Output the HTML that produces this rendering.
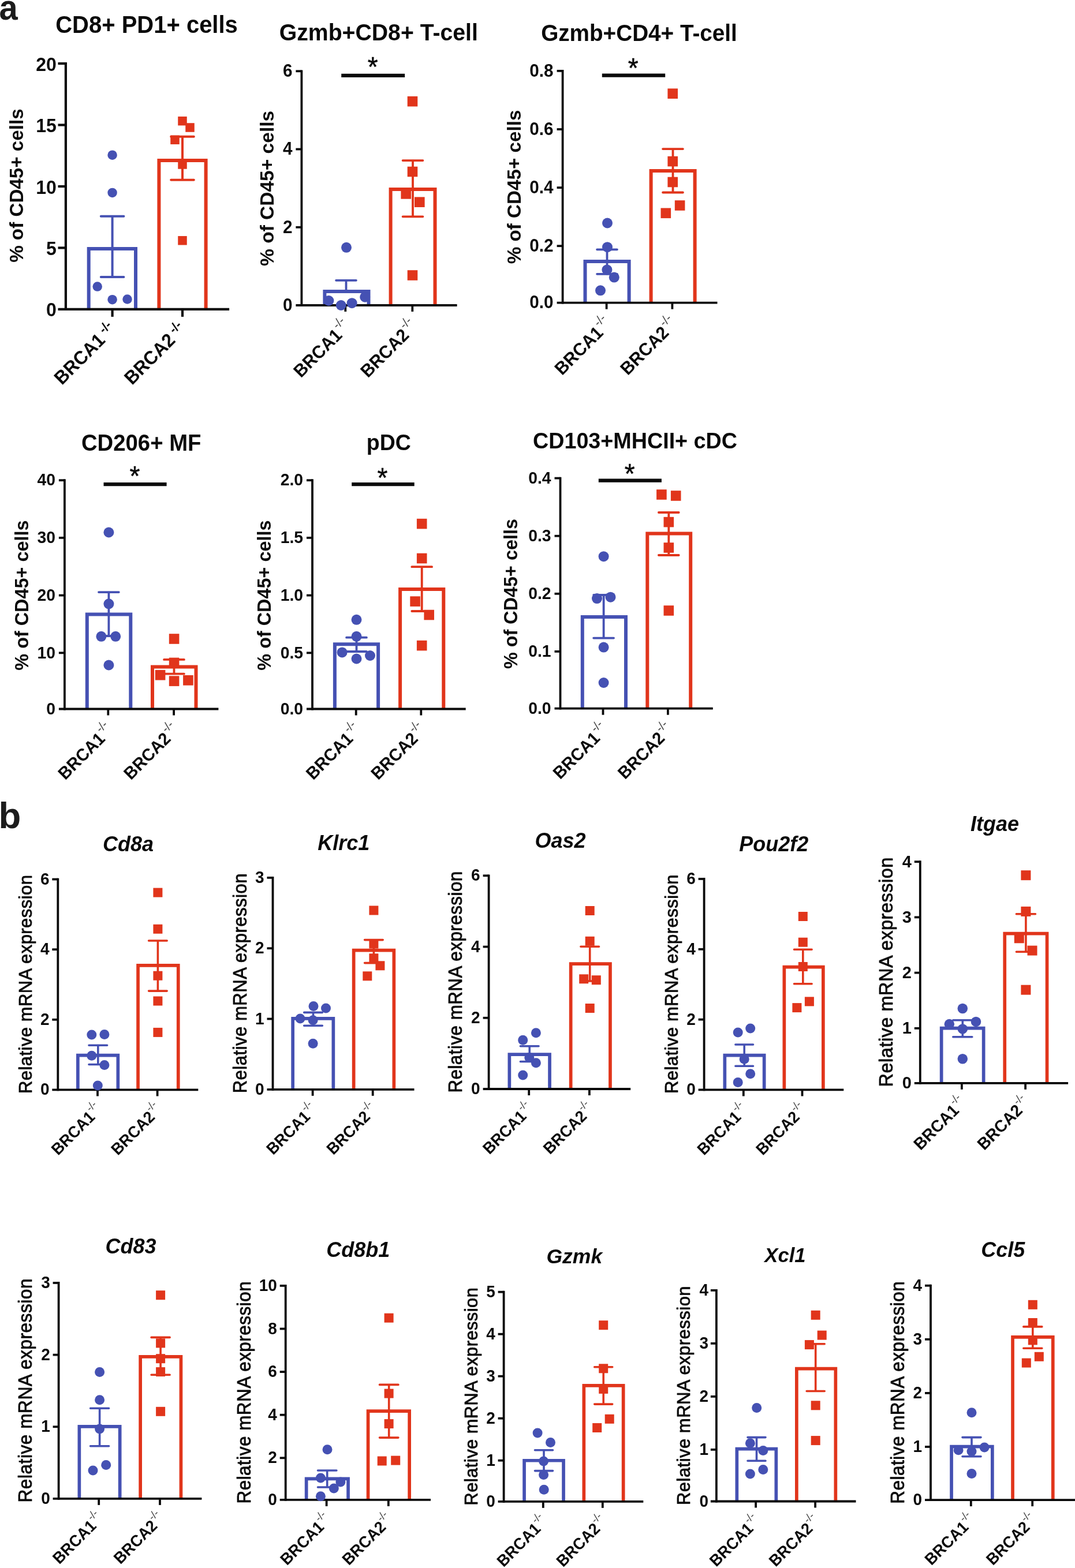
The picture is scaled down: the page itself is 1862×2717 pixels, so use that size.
<!DOCTYPE html>
<html lang="en">
<head>
<meta charset="utf-8">
<title>Figure</title>
<style>
html,body{margin:0;padding:0;background:#fff;}
body{width:1862px;height:2717px;overflow:hidden;}
svg{display:block;font-family:'Liberation Sans', Arial, sans-serif;}
svg text{font-kerning:normal;}
</style>
</head>
<body>
<svg width="1862" height="2717" viewBox="0 0 1862 2717">
<rect width="1862" height="2717" fill="#fff"/>
<text transform="translate(-1.5 34.3) scale(0.95 1)" font-size="61" font-weight="bold" fill="#1c1c1c">a</text>
<text transform="translate(-2.4 1434.8)" font-size="63.5" font-weight="bold" fill="#1c1c1c">b</text>
<g>
<path d="M153.7 535.9 V431 H235 V535.9" fill="none" stroke="#4551B3" stroke-width="6" stroke-linejoin="miter"/>
<path d="M275.4 535.9 V278 H356.6 V535.9" fill="none" stroke="#E1351B" stroke-width="6" stroke-linejoin="miter"/>
<path d="M113.9 108V538" stroke="#0a0a0a" stroke-width="4.2" fill="none"/>
<path d="M100.5 535.9H397.1" stroke="#0a0a0a" stroke-width="4.2" fill="none"/>
<path d="M100.5 110.1H113.9" stroke="#0a0a0a" stroke-width="4.2" fill="none"/>
<text transform="translate(97.8 122.62) scale(1 1.04)" font-size="32" font-weight="bold" text-anchor="end" fill="#0a0a0a">20</text>
<path d="M100.5 216.55H113.9" stroke="#0a0a0a" stroke-width="4.2" fill="none"/>
<text transform="translate(97.8 229.07) scale(1 1.04)" font-size="32" font-weight="bold" text-anchor="end" fill="#0a0a0a">15</text>
<path d="M100.5 323H113.9" stroke="#0a0a0a" stroke-width="4.2" fill="none"/>
<text transform="translate(97.8 335.52) scale(1 1.04)" font-size="32" font-weight="bold" text-anchor="end" fill="#0a0a0a">10</text>
<path d="M100.5 429.45H113.9" stroke="#0a0a0a" stroke-width="4.2" fill="none"/>
<text transform="translate(97.8 441.97) scale(1 1.04)" font-size="32" font-weight="bold" text-anchor="end" fill="#0a0a0a">5</text>
<text transform="translate(97.8 548.42) scale(1 1.04)" font-size="32" font-weight="bold" text-anchor="end" fill="#0a0a0a">0</text>
<path d="M194.6 535.9V548.9" stroke="#0a0a0a" stroke-width="4.2" fill="none"/>
<path d="M316 535.9V548.9" stroke="#0a0a0a" stroke-width="4.2" fill="none"/>
<path d="M194.6 374.8V480M174.8 374.8H214.4M174.8 480H214.4" fill="none" stroke="#4551B3" stroke-width="4" stroke-linecap="round"/>
<path d="M316 236.8V311.8M296.2 236.8H335.8M296.2 311.8H335.8" fill="none" stroke="#E1351B" stroke-width="4" stroke-linecap="round"/>
<circle cx="194.6" cy="268.7" r="8.25" fill="#4551B3"/>
<circle cx="194.6" cy="333.9" r="8.25" fill="#4551B3"/>
<circle cx="168.7" cy="496.6" r="8.25" fill="#4551B3"/>
<circle cx="194.6" cy="519.2" r="8.25" fill="#4551B3"/>
<circle cx="220.5" cy="518.5" r="8.25" fill="#4551B3"/>
<rect x="308.25" y="201.95" width="15.5" height="15.5" fill="#E1351B"/>
<rect x="321.25" y="213.25" width="15.5" height="15.5" fill="#E1351B"/>
<rect x="295.25" y="234.55" width="15.5" height="15.5" fill="#E1351B"/>
<rect x="308.25" y="277.25" width="15.5" height="15.5" fill="#E1351B"/>
<rect x="308.25" y="409.05" width="15.5" height="15.5" fill="#E1351B"/>
<text transform="translate(202.5 572.9) rotate(-45) scale(1 1.04)" font-size="31.5" font-weight="bold" text-anchor="end" fill="#0a0a0a">BRCA1<tspan font-size="21.42" dx="6" dy="-11.02" font-weight="bold" fill="#0a0a0a">-/-</tspan></text>
<text transform="translate(323.9 572.9) rotate(-45) scale(1 1.04)" font-size="31.5" font-weight="bold" text-anchor="end" fill="#0a0a0a">BRCA2<tspan font-size="21.42" dx="6" dy="-11.02" font-weight="bold" fill="#0a0a0a">-/-</tspan></text>
<text transform="translate(254 56.5) scale(1 1.04)" font-size="40" font-weight="bold" text-anchor="middle" fill="#0a0a0a">CD8+ PD1+ cells</text>
<text transform="translate(40.2 321.6) rotate(-90)" font-size="33.2" font-weight="bold" text-anchor="middle" fill="#0a0a0a">% of CD45+ cells</text>
</g>
<g>
<path d="M562.4 529 V505.1 H638.5 V529" fill="none" stroke="#4551B3" stroke-width="6" stroke-linejoin="miter"/>
<path d="M676.6 529 V328.1 H753.5 V529" fill="none" stroke="#E1351B" stroke-width="6" stroke-linejoin="miter"/>
<path d="M522.4 121.4V530.9" stroke="#0a0a0a" stroke-width="3.8" fill="none"/>
<path d="M512.4 529H791.6" stroke="#0a0a0a" stroke-width="3.8" fill="none"/>
<path d="M512.4 123.3H522.4" stroke="#0a0a0a" stroke-width="3.8" fill="none"/>
<text transform="translate(506.4 133.09) scale(1 1.04)" font-size="29.7" font-weight="bold" text-anchor="end" fill="#0a0a0a">6</text>
<path d="M512.4 258.53H522.4" stroke="#0a0a0a" stroke-width="3.8" fill="none"/>
<text transform="translate(506.4 268.33) scale(1 1.04)" font-size="29.7" font-weight="bold" text-anchor="end" fill="#0a0a0a">4</text>
<path d="M512.4 393.77H522.4" stroke="#0a0a0a" stroke-width="3.8" fill="none"/>
<text transform="translate(506.4 403.56) scale(1 1.04)" font-size="29.7" font-weight="bold" text-anchor="end" fill="#0a0a0a">2</text>
<text transform="translate(506.4 538.79) scale(1 1.04)" font-size="29.7" font-weight="bold" text-anchor="end" fill="#0a0a0a">0</text>
<path d="M598.3 529V540" stroke="#0a0a0a" stroke-width="3.8" fill="none"/>
<path d="M714.3 529V540" stroke="#0a0a0a" stroke-width="3.8" fill="none"/>
<path d="M599.5 485.8V506M582.1 485.8H616.9M582.1 506H616.9" fill="none" stroke="#4551B3" stroke-width="3.8" stroke-linecap="round"/>
<path d="M715 278.1V375.3M697.6 278.1H732.4M697.6 375.3H732.4" fill="none" stroke="#E1351B" stroke-width="3.8" stroke-linecap="round"/>
<circle cx="600" cy="428.8" r="9" fill="#4551B3"/>
<circle cx="569.4" cy="521" r="9" fill="#4551B3"/>
<circle cx="590.7" cy="529" r="9" fill="#4551B3"/>
<circle cx="609.6" cy="525.2" r="9" fill="#4551B3"/>
<circle cx="632.2" cy="514.7" r="9" fill="#4551B3"/>
<rect x="705.7" y="166.9" width="17.6" height="17.6" fill="#E1351B"/>
<rect x="705.7" y="288.7" width="17.6" height="17.6" fill="#E1351B"/>
<rect x="694.4" y="327.1" width="17.6" height="17.6" fill="#E1351B"/>
<rect x="718" y="341.4" width="17.6" height="17.6" fill="#E1351B"/>
<rect x="705.7" y="468.2" width="17.6" height="17.6" fill="#E1351B"/>
<text transform="translate(609.1 567.8) rotate(-45) scale(1 1.04)" font-size="30" font-weight="bold" text-anchor="end" fill="#0a0a0a">BRCA1<tspan font-size="21" dx="1.3" dy="-14.4" font-weight="normal" fill="#444">-/-</tspan></text>
<text transform="translate(725.1 567.8) rotate(-45) scale(1 1.04)" font-size="30" font-weight="bold" text-anchor="end" fill="#0a0a0a">BRCA2<tspan font-size="21" dx="1.3" dy="-14.4" font-weight="normal" fill="#444">-/-</tspan></text>
<text transform="translate(655.8 70.2) scale(1 1.04)" font-size="39.2" font-weight="bold" text-anchor="middle" fill="#0a0a0a">Gzmb+CD8+ T-cell</text>
<text transform="translate(473.6 326.4) rotate(-90)" font-size="33.5" font-weight="bold" text-anchor="middle" fill="#0a0a0a">% of CD45+ cells</text>
<path d="M591.2 130.8H701.2" stroke="#0a0a0a" stroke-width="6.2" fill="none"/>
<text transform="translate(645.6 131.6) scale(1 1.04)" font-size="46" text-anchor="middle" fill="#0a0a0a" stroke="#0a0a0a" stroke-width="0.5" stroke-linejoin="round">*</text>
</g>
<g>
<path d="M1013.5 524.7 V453 H1089.6 V524.7" fill="none" stroke="#4551B3" stroke-width="6" stroke-linejoin="miter"/>
<path d="M1127.6 524.7 V295.9 H1203.6 V524.7" fill="none" stroke="#E1351B" stroke-width="6" stroke-linejoin="miter"/>
<path d="M974.6 121V526.6" stroke="#0a0a0a" stroke-width="3.8" fill="none"/>
<path d="M964.6 524.7H1242.5" stroke="#0a0a0a" stroke-width="3.8" fill="none"/>
<path d="M964.6 122.9H974.6" stroke="#0a0a0a" stroke-width="3.8" fill="none"/>
<text transform="translate(958.6 132.69) scale(1 1.04)" font-size="29.7" font-weight="bold" text-anchor="end" fill="#0a0a0a">0.8</text>
<path d="M964.6 224H974.6" stroke="#0a0a0a" stroke-width="3.8" fill="none"/>
<text transform="translate(958.6 233.79) scale(1 1.04)" font-size="29.7" font-weight="bold" text-anchor="end" fill="#0a0a0a">0.6</text>
<path d="M964.6 325.1H974.6" stroke="#0a0a0a" stroke-width="3.8" fill="none"/>
<text transform="translate(958.6 334.89) scale(1 1.04)" font-size="29.7" font-weight="bold" text-anchor="end" fill="#0a0a0a">0.4</text>
<path d="M964.6 426.2H974.6" stroke="#0a0a0a" stroke-width="3.8" fill="none"/>
<text transform="translate(958.6 435.99) scale(1 1.04)" font-size="29.7" font-weight="bold" text-anchor="end" fill="#0a0a0a">0.2</text>
<text transform="translate(958.6 534.49) scale(1 1.04)" font-size="29.7" font-weight="bold" text-anchor="end" fill="#0a0a0a">0.0</text>
<path d="M1050.6 524.7V535.7" stroke="#0a0a0a" stroke-width="3.8" fill="none"/>
<path d="M1164.4 524.7V535.7" stroke="#0a0a0a" stroke-width="3.8" fill="none"/>
<path d="M1051.5 432.3V474.8M1034.1 432.3H1068.9M1034.1 474.8H1068.9" fill="none" stroke="#4551B3" stroke-width="3.8" stroke-linecap="round"/>
<path d="M1165.5 258.1V333.5M1148.1 258.1H1182.9M1148.1 333.5H1182.9" fill="none" stroke="#E1351B" stroke-width="3.8" stroke-linecap="round"/>
<circle cx="1052" cy="386.5" r="9" fill="#4551B3"/>
<circle cx="1052" cy="428.2" r="9" fill="#4551B3"/>
<circle cx="1051.4" cy="467.4" r="9" fill="#4551B3"/>
<circle cx="1063.8" cy="480.6" r="9" fill="#4551B3"/>
<circle cx="1040" cy="503.3" r="9" fill="#4551B3"/>
<rect x="1156.4" y="153.4" width="17.6" height="17.6" fill="#E1351B"/>
<rect x="1156.4" y="270.8" width="17.6" height="17.6" fill="#E1351B"/>
<rect x="1156.4" y="306.7" width="17.6" height="17.6" fill="#E1351B"/>
<rect x="1168.8" y="347.2" width="17.6" height="17.6" fill="#E1351B"/>
<rect x="1144.5" y="360.5" width="17.6" height="17.6" fill="#E1351B"/>
<text transform="translate(1061.4 563.5) rotate(-45) scale(1 1.04)" font-size="30" font-weight="bold" text-anchor="end" fill="#0a0a0a">BRCA1<tspan font-size="21" dx="1.3" dy="-14.4" font-weight="normal" fill="#444">-/-</tspan></text>
<text transform="translate(1175.2 563.5) rotate(-45) scale(1 1.04)" font-size="30" font-weight="bold" text-anchor="end" fill="#0a0a0a">BRCA2<tspan font-size="21" dx="1.3" dy="-14.4" font-weight="normal" fill="#444">-/-</tspan></text>
<text transform="translate(1107 71) scale(1 1.04)" font-size="38.7" font-weight="bold" text-anchor="middle" fill="#0a0a0a">Gzmb+CD4+ T-cell</text>
<text transform="translate(901.8 323.9) rotate(-90)" font-size="33.2" font-weight="bold" text-anchor="middle" fill="#0a0a0a">% of CD45+ cells</text>
<path d="M1042.8 130.6H1152.2" stroke="#0a0a0a" stroke-width="6.2" fill="none"/>
<text transform="translate(1096.7 133.5) scale(1 1.04)" font-size="46" text-anchor="middle" fill="#0a0a0a" stroke="#0a0a0a" stroke-width="0.5" stroke-linejoin="round">*</text>
</g>
<g>
<path d="M150.8 1228.5 V1064.4 H226.3 V1228.5" fill="none" stroke="#4551B3" stroke-width="6" stroke-linejoin="miter"/>
<path d="M264 1228.5 V1155.5 H339.5 V1228.5" fill="none" stroke="#E1351B" stroke-width="6" stroke-linejoin="miter"/>
<path d="M111.9 830.3V1230.4" stroke="#0a0a0a" stroke-width="3.8" fill="none"/>
<path d="M101.9 1228.5H378.4" stroke="#0a0a0a" stroke-width="3.8" fill="none"/>
<path d="M101.9 832.2H111.9" stroke="#0a0a0a" stroke-width="3.8" fill="none"/>
<text transform="translate(95.9 841.49) scale(1 1.04)" font-size="28.3" font-weight="bold" text-anchor="end" fill="#0a0a0a">40</text>
<path d="M101.9 931.9H111.9" stroke="#0a0a0a" stroke-width="3.8" fill="none"/>
<text transform="translate(95.9 941.19) scale(1 1.04)" font-size="28.3" font-weight="bold" text-anchor="end" fill="#0a0a0a">30</text>
<path d="M101.9 1031.6H111.9" stroke="#0a0a0a" stroke-width="3.8" fill="none"/>
<text transform="translate(95.9 1040.89) scale(1 1.04)" font-size="28.3" font-weight="bold" text-anchor="end" fill="#0a0a0a">20</text>
<path d="M101.9 1131.3H111.9" stroke="#0a0a0a" stroke-width="3.8" fill="none"/>
<text transform="translate(95.9 1140.59) scale(1 1.04)" font-size="28.3" font-weight="bold" text-anchor="end" fill="#0a0a0a">10</text>
<text transform="translate(95.9 1237.79) scale(1 1.04)" font-size="28.3" font-weight="bold" text-anchor="end" fill="#0a0a0a">0</text>
<path d="M187.3 1228.5V1239.5" stroke="#0a0a0a" stroke-width="3.8" fill="none"/>
<path d="M301.1 1228.5V1239.5" stroke="#0a0a0a" stroke-width="3.8" fill="none"/>
<path d="M188.4 1026.1V1102M171 1026.1H205.8M171 1102H205.8" fill="none" stroke="#4551B3" stroke-width="3.8" stroke-linecap="round"/>
<path d="M301.5 1142.9V1167.7M284.1 1142.9H318.9M284.1 1167.7H318.9" fill="none" stroke="#E1351B" stroke-width="3.8" stroke-linecap="round"/>
<circle cx="188.4" cy="922.5" r="9" fill="#4551B3"/>
<circle cx="188.4" cy="1046.3" r="9" fill="#4551B3"/>
<circle cx="175.4" cy="1102.8" r="9" fill="#4551B3"/>
<circle cx="200.2" cy="1102.8" r="9" fill="#4551B3"/>
<circle cx="188.4" cy="1152.5" r="9" fill="#4551B3"/>
<rect x="292.8" y="1098.2" width="17.6" height="17.6" fill="#E1351B"/>
<rect x="292.8" y="1139.6" width="17.6" height="17.6" fill="#E1351B"/>
<rect x="268.8" y="1160.9" width="17.6" height="17.6" fill="#E1351B"/>
<rect x="292.8" y="1171.3" width="17.6" height="17.6" fill="#E1351B"/>
<rect x="317.1" y="1170" width="17.6" height="17.6" fill="#E1351B"/>
<text transform="translate(198.1 1267.3) rotate(-45) scale(1 1.04)" font-size="29" font-weight="bold" text-anchor="end" fill="#0a0a0a">BRCA1<tspan font-size="20.3" dx="1.3" dy="-13.92" font-weight="normal" fill="#444">-/-</tspan></text>
<text transform="translate(311.9 1267.3) rotate(-45) scale(1 1.04)" font-size="29" font-weight="bold" text-anchor="end" fill="#0a0a0a">BRCA2<tspan font-size="20.3" dx="1.3" dy="-13.92" font-weight="normal" fill="#444">-/-</tspan></text>
<text transform="translate(244.7 781.1) scale(1 1.04)" font-size="38.3" font-weight="bold" text-anchor="middle" fill="#0a0a0a">CD206+ MF</text>
<text transform="translate(48.5 1031.6) rotate(-90)" font-size="32.4" font-weight="bold" text-anchor="middle" fill="#0a0a0a">% of CD45+ cells</text>
<path d="M179.5 839.1H288.6" stroke="#0a0a0a" stroke-width="6.2" fill="none"/>
<text transform="translate(233.4 840.9) scale(1 1.04)" font-size="46" text-anchor="middle" fill="#0a0a0a" stroke="#0a0a0a" stroke-width="0.5" stroke-linejoin="round">*</text>
</g>
<g>
<path d="M579.9 1228.5 V1116.3 H655.1 V1228.5" fill="none" stroke="#4551B3" stroke-width="6" stroke-linejoin="miter"/>
<path d="M693.1 1228.5 V1021.1 H768.3 V1228.5" fill="none" stroke="#E1351B" stroke-width="6" stroke-linejoin="miter"/>
<path d="M541 830.3V1230.4" stroke="#0a0a0a" stroke-width="3.8" fill="none"/>
<path d="M531 1228.5H806.7" stroke="#0a0a0a" stroke-width="3.8" fill="none"/>
<path d="M531 832.2H541" stroke="#0a0a0a" stroke-width="3.8" fill="none"/>
<text transform="translate(525 841.49) scale(1 1.04)" font-size="28.3" font-weight="bold" text-anchor="end" fill="#0a0a0a">2.0</text>
<path d="M531 931.9H541" stroke="#0a0a0a" stroke-width="3.8" fill="none"/>
<text transform="translate(525 941.19) scale(1 1.04)" font-size="28.3" font-weight="bold" text-anchor="end" fill="#0a0a0a">1.5</text>
<path d="M531 1031.6H541" stroke="#0a0a0a" stroke-width="3.8" fill="none"/>
<text transform="translate(525 1040.89) scale(1 1.04)" font-size="28.3" font-weight="bold" text-anchor="end" fill="#0a0a0a">1.0</text>
<path d="M531 1131.3H541" stroke="#0a0a0a" stroke-width="3.8" fill="none"/>
<text transform="translate(525 1140.59) scale(1 1.04)" font-size="28.3" font-weight="bold" text-anchor="end" fill="#0a0a0a">0.5</text>
<text transform="translate(525 1237.79) scale(1 1.04)" font-size="28.3" font-weight="bold" text-anchor="end" fill="#0a0a0a">0.0</text>
<path d="M616.7 1228.5V1239.5" stroke="#0a0a0a" stroke-width="3.8" fill="none"/>
<path d="M729.3 1228.5V1239.5" stroke="#0a0a0a" stroke-width="3.8" fill="none"/>
<path d="M617.5 1104.7V1129M600.1 1104.7H634.9M600.1 1129H634.9" fill="none" stroke="#4551B3" stroke-width="3.8" stroke-linecap="round"/>
<path d="M730.7 982.2V1059M713.3 982.2H748.1M713.3 1059H748.1" fill="none" stroke="#E1351B" stroke-width="3.8" stroke-linecap="round"/>
<circle cx="617.5" cy="1073.8" r="9" fill="#4551B3"/>
<circle cx="617.5" cy="1102.8" r="9" fill="#4551B3"/>
<circle cx="592.6" cy="1130.4" r="9" fill="#4551B3"/>
<circle cx="617.5" cy="1141.5" r="9" fill="#4551B3"/>
<circle cx="641" cy="1136" r="9" fill="#4551B3"/>
<rect x="721.9" y="898.8" width="17.6" height="17.6" fill="#E1351B"/>
<rect x="721.9" y="958.7" width="17.6" height="17.6" fill="#E1351B"/>
<rect x="710.3" y="1033.3" width="17.6" height="17.6" fill="#E1351B"/>
<rect x="734.4" y="1056.7" width="17.6" height="17.6" fill="#E1351B"/>
<rect x="721.9" y="1109.8" width="17.6" height="17.6" fill="#E1351B"/>
<text transform="translate(627.5 1267.3) rotate(-45) scale(1 1.04)" font-size="29" font-weight="bold" text-anchor="end" fill="#0a0a0a">BRCA1<tspan font-size="20.3" dx="1.3" dy="-13.92" font-weight="normal" fill="#444">-/-</tspan></text>
<text transform="translate(740.1 1267.3) rotate(-45) scale(1 1.04)" font-size="29" font-weight="bold" text-anchor="end" fill="#0a0a0a">BRCA2<tspan font-size="20.3" dx="1.3" dy="-13.92" font-weight="normal" fill="#444">-/-</tspan></text>
<text transform="translate(673.4 779.7) scale(1 1.04)" font-size="37.5" font-weight="bold" text-anchor="middle" fill="#0a0a0a">pDC</text>
<text transform="translate(468.5 1031.6) rotate(-90)" font-size="32.4" font-weight="bold" text-anchor="middle" fill="#0a0a0a">% of CD45+ cells</text>
<path d="M609.2 839.1H717.7" stroke="#0a0a0a" stroke-width="6.2" fill="none"/>
<text transform="translate(662.5 843.5) scale(1 1.04)" font-size="46" text-anchor="middle" fill="#0a0a0a" stroke="#0a0a0a" stroke-width="0.5" stroke-linejoin="round">*</text>
</g>
<g>
<path d="M1008.8 1227.7 V1069 H1084 V1227.7" fill="none" stroke="#4551B3" stroke-width="6" stroke-linejoin="miter"/>
<path d="M1121.3 1227.7 V924.4 H1196.2 V1227.7" fill="none" stroke="#E1351B" stroke-width="6" stroke-linejoin="miter"/>
<path d="M970.5 826.7V1229.6" stroke="#0a0a0a" stroke-width="3.8" fill="none"/>
<path d="M960.5 1227.7H1234.8" stroke="#0a0a0a" stroke-width="3.8" fill="none"/>
<path d="M960.5 828.6H970.5" stroke="#0a0a0a" stroke-width="3.8" fill="none"/>
<text transform="translate(954.5 837.89) scale(1 1.04)" font-size="28.3" font-weight="bold" text-anchor="end" fill="#0a0a0a">0.4</text>
<path d="M960.5 928.7H970.5" stroke="#0a0a0a" stroke-width="3.8" fill="none"/>
<text transform="translate(954.5 937.99) scale(1 1.04)" font-size="28.3" font-weight="bold" text-anchor="end" fill="#0a0a0a">0.3</text>
<path d="M960.5 1028.8H970.5" stroke="#0a0a0a" stroke-width="3.8" fill="none"/>
<text transform="translate(954.5 1038.09) scale(1 1.04)" font-size="28.3" font-weight="bold" text-anchor="end" fill="#0a0a0a">0.2</text>
<path d="M960.5 1128.9H970.5" stroke="#0a0a0a" stroke-width="3.8" fill="none"/>
<text transform="translate(954.5 1138.19) scale(1 1.04)" font-size="28.3" font-weight="bold" text-anchor="end" fill="#0a0a0a">0.1</text>
<text transform="translate(954.5 1236.99) scale(1 1.04)" font-size="28.3" font-weight="bold" text-anchor="end" fill="#0a0a0a">0.0</text>
<path d="M1044.5 1227.7V1238.7" stroke="#0a0a0a" stroke-width="3.8" fill="none"/>
<path d="M1156.9 1227.7V1238.7" stroke="#0a0a0a" stroke-width="3.8" fill="none"/>
<path d="M1045.6 1031V1105.6M1028.2 1031H1063M1028.2 1105.6H1063" fill="none" stroke="#4551B3" stroke-width="3.8" stroke-linecap="round"/>
<path d="M1158.3 888V962M1140.9 888H1175.7M1140.9 962H1175.7" fill="none" stroke="#E1351B" stroke-width="3.8" stroke-linecap="round"/>
<circle cx="1045.6" cy="964.2" r="9" fill="#4551B3"/>
<circle cx="1034" cy="1037.1" r="9" fill="#4551B3"/>
<circle cx="1057.5" cy="1034.7" r="9" fill="#4551B3"/>
<circle cx="1045.6" cy="1121.6" r="9" fill="#4551B3"/>
<circle cx="1045.6" cy="1183" r="9" fill="#4551B3"/>
<rect x="1137.1" y="848.2" width="17.6" height="17.6" fill="#E1351B"/>
<rect x="1161.9" y="850.2" width="17.6" height="17.6" fill="#E1351B"/>
<rect x="1149.5" y="895.8" width="17.6" height="17.6" fill="#E1351B"/>
<rect x="1149.5" y="940.2" width="17.6" height="17.6" fill="#E1351B"/>
<rect x="1149.5" y="1049.2" width="17.6" height="17.6" fill="#E1351B"/>
<text transform="translate(1055.3 1266.5) rotate(-45) scale(1 1.04)" font-size="29" font-weight="bold" text-anchor="end" fill="#0a0a0a">BRCA1<tspan font-size="20.3" dx="1.3" dy="-13.92" font-weight="normal" fill="#444">-/-</tspan></text>
<text transform="translate(1167.7 1266.5) rotate(-45) scale(1 1.04)" font-size="29" font-weight="bold" text-anchor="end" fill="#0a0a0a">BRCA2<tspan font-size="20.3" dx="1.3" dy="-13.92" font-weight="normal" fill="#444">-/-</tspan></text>
<text transform="translate(1100 777) scale(1 1.04)" font-size="37.7" font-weight="bold" text-anchor="middle" fill="#0a0a0a">CD103+MHCII+ cDC</text>
<text transform="translate(895.5 1029) rotate(-90)" font-size="32.4" font-weight="bold" text-anchor="middle" fill="#0a0a0a">% of CD45+ cells</text>
<path d="M1036.8 832.7H1145.9" stroke="#0a0a0a" stroke-width="6.2" fill="none"/>
<text transform="translate(1090.6 836.5) scale(1 1.04)" font-size="46" text-anchor="middle" fill="#0a0a0a" stroke="#0a0a0a" stroke-width="0.5" stroke-linejoin="round">*</text>
</g>
<g>
<path d="M134.85 1888.4 V1828.55 H204.35 V1888.4" fill="none" stroke="#4551B3" stroke-width="5.7" stroke-linejoin="miter"/>
<path d="M239.05 1888.4 V1672.85 H308.75 V1888.4" fill="none" stroke="#E1351B" stroke-width="5.7" stroke-linejoin="miter"/>
<path d="M100.3 1521.7V1890.3" stroke="#0a0a0a" stroke-width="3.8" fill="none"/>
<path d="M90.3 1888.4H343.3" stroke="#0a0a0a" stroke-width="3.8" fill="none"/>
<path d="M90.3 1523.6H100.3" stroke="#0a0a0a" stroke-width="3.8" fill="none"/>
<text transform="translate(85.5 1532.68) scale(1 1.04)" font-size="28" font-weight="bold" text-anchor="end" fill="#0a0a0a">6</text>
<path d="M90.3 1645.2H100.3" stroke="#0a0a0a" stroke-width="3.8" fill="none"/>
<text transform="translate(85.5 1654.28) scale(1 1.04)" font-size="28" font-weight="bold" text-anchor="end" fill="#0a0a0a">4</text>
<path d="M90.3 1766.8H100.3" stroke="#0a0a0a" stroke-width="3.8" fill="none"/>
<text transform="translate(85.5 1775.88) scale(1 1.04)" font-size="28" font-weight="bold" text-anchor="end" fill="#0a0a0a">2</text>
<text transform="translate(85.5 1897.48) scale(1 1.04)" font-size="28" font-weight="bold" text-anchor="end" fill="#0a0a0a">0</text>
<path d="M169 1888.4V1899.4" stroke="#0a0a0a" stroke-width="3.8" fill="none"/>
<path d="M272.6 1888.4V1899.4" stroke="#0a0a0a" stroke-width="3.8" fill="none"/>
<path d="M169.8 1811.3V1844.5M154 1811.3H185.6M154 1844.5H185.6" fill="none" stroke="#4551B3" stroke-width="3.6" stroke-linecap="round"/>
<path d="M273.4 1630V1717.1M257.6 1630H289.2M257.6 1717.1H289.2" fill="none" stroke="#E1351B" stroke-width="3.6" stroke-linecap="round"/>
<circle cx="158.8" cy="1793.1" r="8.5" fill="#4551B3"/>
<circle cx="180.9" cy="1792.5" r="8.5" fill="#4551B3"/>
<circle cx="158.8" cy="1829.3" r="8.5" fill="#4551B3"/>
<circle cx="180.9" cy="1845.6" r="8.5" fill="#4551B3"/>
<circle cx="169.3" cy="1880.9" r="8.5" fill="#4551B3"/>
<rect x="265.4" y="1538.6" width="16" height="16" fill="#E1351B"/>
<rect x="265.4" y="1601.8" width="16" height="16" fill="#E1351B"/>
<rect x="265.4" y="1682.7" width="16" height="16" fill="#E1351B"/>
<rect x="265.4" y="1726.5" width="16" height="16" fill="#E1351B"/>
<rect x="265.4" y="1780.9" width="16" height="16" fill="#E1351B"/>
<text transform="translate(178.5 1924.9) rotate(-45) scale(1 1.04)" font-size="27" font-weight="bold" text-anchor="end" fill="#0a0a0a">BRCA1<tspan font-size="18.09" dx="0.3" dy="-13.5" font-weight="normal" fill="#444">-/-</tspan></text>
<text transform="translate(282.1 1924.9) rotate(-45) scale(1 1.04)" font-size="27" font-weight="bold" text-anchor="end" fill="#0a0a0a">BRCA2<tspan font-size="18.09" dx="0.3" dy="-13.5" font-weight="normal" fill="#444">-/-</tspan></text>
<text transform="translate(222 1474.5)" font-size="36" font-weight="bold" font-style="italic" text-anchor="middle" fill="#0a0a0a">Cd8a</text>
<text transform="translate(54.75 1705.3) rotate(-90) scale(1 1.04)" font-size="30.9" text-anchor="middle" letter-spacing="0.5" fill="#0a0a0a" stroke="#0a0a0a" stroke-width="0.8" stroke-linejoin="round">Relative mRNA expression</text>
</g>
<g>
<path d="M507.15 1887.8 V1764.95 H577.35 V1887.8" fill="none" stroke="#4551B3" stroke-width="5.7" stroke-linejoin="miter"/>
<path d="M612.65 1887.8 V1646.65 H682.35 V1887.8" fill="none" stroke="#E1351B" stroke-width="5.7" stroke-linejoin="miter"/>
<path d="M472.5 1519V1889.7" stroke="#0a0a0a" stroke-width="3.8" fill="none"/>
<path d="M462.5 1887.8H717.5" stroke="#0a0a0a" stroke-width="3.8" fill="none"/>
<path d="M462.5 1520.9H472.5" stroke="#0a0a0a" stroke-width="3.8" fill="none"/>
<text transform="translate(457.7 1529.98) scale(1 1.04)" font-size="28" font-weight="bold" text-anchor="end" fill="#0a0a0a">3</text>
<path d="M462.5 1643.2H472.5" stroke="#0a0a0a" stroke-width="3.8" fill="none"/>
<text transform="translate(457.7 1652.28) scale(1 1.04)" font-size="28" font-weight="bold" text-anchor="end" fill="#0a0a0a">2</text>
<path d="M462.5 1765.5H472.5" stroke="#0a0a0a" stroke-width="3.8" fill="none"/>
<text transform="translate(457.7 1774.58) scale(1 1.04)" font-size="28" font-weight="bold" text-anchor="end" fill="#0a0a0a">1</text>
<text transform="translate(457.7 1896.88) scale(1 1.04)" font-size="28" font-weight="bold" text-anchor="end" fill="#0a0a0a">0</text>
<path d="M541.6 1887.8V1898.8" stroke="#0a0a0a" stroke-width="3.8" fill="none"/>
<path d="M645.7 1887.8V1898.8" stroke="#0a0a0a" stroke-width="3.8" fill="none"/>
<path d="M542.5 1754.4V1777.3M526.7 1754.4H558.3M526.7 1777.3H558.3" fill="none" stroke="#4551B3" stroke-width="3.6" stroke-linecap="round"/>
<path d="M647.4 1628.6V1668.6M631.6 1628.6H663.2M631.6 1668.6H663.2" fill="none" stroke="#E1351B" stroke-width="3.6" stroke-linecap="round"/>
<circle cx="543" cy="1743.4" r="8.5" fill="#4551B3"/>
<circle cx="564.5" cy="1747" r="8.5" fill="#4551B3"/>
<circle cx="520" cy="1764.9" r="8.5" fill="#4551B3"/>
<circle cx="542.1" cy="1767.7" r="8.5" fill="#4551B3"/>
<circle cx="542.1" cy="1808.3" r="8.5" fill="#4551B3"/>
<rect x="639.4" y="1569.5" width="16" height="16" fill="#E1351B"/>
<rect x="639.4" y="1627.5" width="16" height="16" fill="#E1351B"/>
<rect x="639.4" y="1652.3" width="16" height="16" fill="#E1351B"/>
<rect x="650.4" y="1665.3" width="16" height="16" fill="#E1351B"/>
<rect x="628.3" y="1683.3" width="16" height="16" fill="#E1351B"/>
<text transform="translate(551.1 1924.3) rotate(-45) scale(1 1.04)" font-size="27" font-weight="bold" text-anchor="end" fill="#0a0a0a">BRCA1<tspan font-size="18.09" dx="0.3" dy="-13.5" font-weight="normal" fill="#444">-/-</tspan></text>
<text transform="translate(655.2 1924.3) rotate(-45) scale(1 1.04)" font-size="27" font-weight="bold" text-anchor="end" fill="#0a0a0a">BRCA2<tspan font-size="18.09" dx="0.3" dy="-13.5" font-weight="normal" fill="#444">-/-</tspan></text>
<text transform="translate(595.2 1472.5)" font-size="36" font-weight="bold" font-style="italic" text-anchor="middle" fill="#0a0a0a">Klrc1</text>
<text transform="translate(426.69 1703.65) rotate(-90) scale(1 1.04)" font-size="31.08" text-anchor="middle" letter-spacing="0.5" fill="#0a0a0a" stroke="#0a0a0a" stroke-width="0.8" stroke-linejoin="round">Relative mRNA expression</text>
</g>
<g>
<path d="M882.35 1887 V1827.15 H952.05 V1887" fill="none" stroke="#4551B3" stroke-width="5.7" stroke-linejoin="miter"/>
<path d="M988.65 1887 V1670.15 H1056.95 V1887" fill="none" stroke="#E1351B" stroke-width="5.7" stroke-linejoin="miter"/>
<path d="M846.6 1515.4V1888.9" stroke="#0a0a0a" stroke-width="3.8" fill="none"/>
<path d="M836.6 1887H1092.2" stroke="#0a0a0a" stroke-width="3.8" fill="none"/>
<path d="M836.6 1517.3H846.6" stroke="#0a0a0a" stroke-width="3.8" fill="none"/>
<text transform="translate(831.6 1526.38) scale(1 1.04)" font-size="28" font-weight="bold" text-anchor="end" fill="#0a0a0a">6</text>
<path d="M836.6 1640.53H846.6" stroke="#0a0a0a" stroke-width="3.8" fill="none"/>
<text transform="translate(831.6 1649.61) scale(1 1.04)" font-size="28" font-weight="bold" text-anchor="end" fill="#0a0a0a">4</text>
<path d="M836.6 1763.77H846.6" stroke="#0a0a0a" stroke-width="3.8" fill="none"/>
<text transform="translate(831.6 1772.85) scale(1 1.04)" font-size="28" font-weight="bold" text-anchor="end" fill="#0a0a0a">2</text>
<text transform="translate(831.6 1896.08) scale(1 1.04)" font-size="28" font-weight="bold" text-anchor="end" fill="#0a0a0a">0</text>
<path d="M916.2 1887V1898" stroke="#0a0a0a" stroke-width="3.8" fill="none"/>
<path d="M1020.9 1887V1898" stroke="#0a0a0a" stroke-width="3.8" fill="none"/>
<path d="M917.2 1812.7V1839.5M901.4 1812.7H933M901.4 1839.5H933" fill="none" stroke="#4551B3" stroke-width="3.6" stroke-linecap="round"/>
<path d="M1021.7 1640.2V1700M1005.9 1640.2H1037.5M1005.9 1700H1037.5" fill="none" stroke="#E1351B" stroke-width="3.6" stroke-linecap="round"/>
<circle cx="928.4" cy="1789.8" r="8.5" fill="#4551B3"/>
<circle cx="905.7" cy="1802.2" r="8.5" fill="#4551B3"/>
<circle cx="916.8" cy="1832.6" r="8.5" fill="#4551B3"/>
<circle cx="928.4" cy="1841.7" r="8.5" fill="#4551B3"/>
<circle cx="905.7" cy="1863" r="8.5" fill="#4551B3"/>
<rect x="1013.7" y="1570" width="16" height="16" fill="#E1351B"/>
<rect x="1013.7" y="1622.8" width="16" height="16" fill="#E1351B"/>
<rect x="1003.2" y="1688.3" width="16" height="16" fill="#E1351B"/>
<rect x="1024.8" y="1690.2" width="16" height="16" fill="#E1351B"/>
<rect x="1013.7" y="1739" width="16" height="16" fill="#E1351B"/>
<text transform="translate(925.7 1923.5) rotate(-45) scale(1 1.04)" font-size="27" font-weight="bold" text-anchor="end" fill="#0a0a0a">BRCA1<tspan font-size="18.09" dx="0.3" dy="-13.5" font-weight="normal" fill="#444">-/-</tspan></text>
<text transform="translate(1030.4 1923.5) rotate(-45) scale(1 1.04)" font-size="27" font-weight="bold" text-anchor="end" fill="#0a0a0a">BRCA2<tspan font-size="18.09" dx="0.3" dy="-13.5" font-weight="normal" fill="#444">-/-</tspan></text>
<text transform="translate(970.6 1469)" font-size="36" font-weight="bold" font-style="italic" text-anchor="middle" fill="#0a0a0a">Oas2</text>
<text transform="translate(800.44 1701.45) rotate(-90) scale(1 1.04)" font-size="31.31" text-anchor="middle" letter-spacing="0.5" fill="#0a0a0a" stroke="#0a0a0a" stroke-width="0.8" stroke-linejoin="round">Relative mRNA expression</text>
</g>
<g>
<path d="M1255.35 1888.4 V1828.55 H1323.65 V1888.4" fill="none" stroke="#4551B3" stroke-width="5.7" stroke-linejoin="miter"/>
<path d="M1358.35 1888.4 V1675.65 H1425.85 V1888.4" fill="none" stroke="#E1351B" stroke-width="5.7" stroke-linejoin="miter"/>
<path d="M1219.6 1521.1V1890.3" stroke="#0a0a0a" stroke-width="3.8" fill="none"/>
<path d="M1209.6 1888.4H1461.3" stroke="#0a0a0a" stroke-width="3.8" fill="none"/>
<path d="M1209.6 1523H1219.6" stroke="#0a0a0a" stroke-width="3.8" fill="none"/>
<text transform="translate(1204.8 1532.08) scale(1 1.04)" font-size="28" font-weight="bold" text-anchor="end" fill="#0a0a0a">6</text>
<path d="M1209.6 1644.8H1219.6" stroke="#0a0a0a" stroke-width="3.8" fill="none"/>
<text transform="translate(1204.8 1653.88) scale(1 1.04)" font-size="28" font-weight="bold" text-anchor="end" fill="#0a0a0a">4</text>
<path d="M1209.6 1766.6H1219.6" stroke="#0a0a0a" stroke-width="3.8" fill="none"/>
<text transform="translate(1204.8 1775.68) scale(1 1.04)" font-size="28" font-weight="bold" text-anchor="end" fill="#0a0a0a">2</text>
<text transform="translate(1204.8 1897.48) scale(1 1.04)" font-size="28" font-weight="bold" text-anchor="end" fill="#0a0a0a">0</text>
<path d="M1287.8 1888.4V1899.4" stroke="#0a0a0a" stroke-width="3.8" fill="none"/>
<path d="M1389.5 1888.4V1899.4" stroke="#0a0a0a" stroke-width="3.8" fill="none"/>
<path d="M1289.2 1810V1847.2M1273.9 1810H1304.5M1273.9 1847.2H1304.5" fill="none" stroke="#4551B3" stroke-width="3.6" stroke-linecap="round"/>
<path d="M1390.8 1645.2V1704.7M1375.5 1645.2H1406.1M1375.5 1704.7H1406.1" fill="none" stroke="#E1351B" stroke-width="3.6" stroke-linecap="round"/>
<circle cx="1278.2" cy="1789" r="8.5" fill="#4551B3"/>
<circle cx="1299.7" cy="1782" r="8.5" fill="#4551B3"/>
<circle cx="1289.2" cy="1835.3" r="8.5" fill="#4551B3"/>
<circle cx="1299.7" cy="1860.8" r="8.5" fill="#4551B3"/>
<circle cx="1278.2" cy="1875.4" r="8.5" fill="#4551B3"/>
<rect x="1382.8" y="1580" width="16" height="16" fill="#E1351B"/>
<rect x="1382.8" y="1624.7" width="16" height="16" fill="#E1351B"/>
<rect x="1382.8" y="1667" width="16" height="16" fill="#E1351B"/>
<rect x="1393.9" y="1727.4" width="16" height="16" fill="#E1351B"/>
<rect x="1372.4" y="1738.1" width="16" height="16" fill="#E1351B"/>
<text transform="translate(1297.3 1924.9) rotate(-45) scale(1 1.04)" font-size="27" font-weight="bold" text-anchor="end" fill="#0a0a0a">BRCA1<tspan font-size="18.09" dx="0.3" dy="-13.5" font-weight="normal" fill="#444">-/-</tspan></text>
<text transform="translate(1399 1924.9) rotate(-45) scale(1 1.04)" font-size="27" font-weight="bold" text-anchor="end" fill="#0a0a0a">BRCA2<tspan font-size="18.09" dx="0.3" dy="-13.5" font-weight="normal" fill="#444">-/-</tspan></text>
<text transform="translate(1340.3 1474.7)" font-size="36" font-weight="bold" font-style="italic" text-anchor="middle" fill="#0a0a0a">Pou2f2</text>
<text transform="translate(1173.97 1705) rotate(-90) scale(1 1.04)" font-size="30.95" text-anchor="middle" letter-spacing="0.5" fill="#0a0a0a" stroke="#0a0a0a" stroke-width="0.8" stroke-linejoin="round">Relative mRNA expression</text>
</g>
<g>
<path d="M1630.65 1876.8 V1781.55 H1703.65 V1876.8" fill="none" stroke="#4551B3" stroke-width="5.7" stroke-linejoin="miter"/>
<path d="M1740.25 1876.8 V1617.65 H1813.55 V1876.8" fill="none" stroke="#E1351B" stroke-width="5.7" stroke-linejoin="miter"/>
<path d="M1593.8 1491.3V1878.7" stroke="#0a0a0a" stroke-width="3.8" fill="none"/>
<path d="M1583.8 1876.8H1850.1" stroke="#0a0a0a" stroke-width="3.8" fill="none"/>
<path d="M1583.8 1493.2H1593.8" stroke="#0a0a0a" stroke-width="3.8" fill="none"/>
<text transform="translate(1579 1502.64) scale(1 1.04)" font-size="29" font-weight="bold" text-anchor="end" fill="#0a0a0a">4</text>
<path d="M1583.8 1589.4H1593.8" stroke="#0a0a0a" stroke-width="3.8" fill="none"/>
<text transform="translate(1579 1598.84) scale(1 1.04)" font-size="29" font-weight="bold" text-anchor="end" fill="#0a0a0a">3</text>
<path d="M1583.8 1685.6H1593.8" stroke="#0a0a0a" stroke-width="3.8" fill="none"/>
<text transform="translate(1579 1695.04) scale(1 1.04)" font-size="29" font-weight="bold" text-anchor="end" fill="#0a0a0a">2</text>
<path d="M1583.8 1781.8H1593.8" stroke="#0a0a0a" stroke-width="3.8" fill="none"/>
<text transform="translate(1579 1791.24) scale(1 1.04)" font-size="29" font-weight="bold" text-anchor="end" fill="#0a0a0a">1</text>
<text transform="translate(1579 1886.24) scale(1 1.04)" font-size="29" font-weight="bold" text-anchor="end" fill="#0a0a0a">0</text>
<path d="M1665.9 1876.8V1887.8" stroke="#0a0a0a" stroke-width="3.8" fill="none"/>
<path d="M1776.1 1876.8V1887.8" stroke="#0a0a0a" stroke-width="3.8" fill="none"/>
<path d="M1667.3 1767.7V1796.7M1650.8 1767.7H1683.8M1650.8 1796.7H1683.8" fill="none" stroke="#4551B3" stroke-width="3.6" stroke-linecap="round"/>
<path d="M1776.9 1583.8V1649.3M1760.4 1583.8H1793.4M1760.4 1649.3H1793.4" fill="none" stroke="#E1351B" stroke-width="3.6" stroke-linecap="round"/>
<circle cx="1667.3" cy="1747.5" r="8.75" fill="#4551B3"/>
<circle cx="1644.3" cy="1774.6" r="8.75" fill="#4551B3"/>
<circle cx="1690.5" cy="1770.4" r="8.75" fill="#4551B3"/>
<circle cx="1667.3" cy="1782.9" r="8.75" fill="#4551B3"/>
<circle cx="1667.3" cy="1834.8" r="8.75" fill="#4551B3"/>
<rect x="1768.4" y="1508.2" width="17" height="17" fill="#E1351B"/>
<rect x="1768.4" y="1570.9" width="17" height="17" fill="#E1351B"/>
<rect x="1756.8" y="1617.3" width="17" height="17" fill="#E1351B"/>
<rect x="1779.5" y="1638.6" width="17" height="17" fill="#E1351B"/>
<rect x="1768.4" y="1706.7" width="17" height="17" fill="#E1351B"/>
<text transform="translate(1675.4 1913.3) rotate(-45) scale(1 1.04)" font-size="28" font-weight="bold" text-anchor="end" fill="#0a0a0a">BRCA1<tspan font-size="18.76" dx="0.3" dy="-14" font-weight="normal" fill="#444">-/-</tspan></text>
<text transform="translate(1785.6 1913.3) rotate(-45) scale(1 1.04)" font-size="28" font-weight="bold" text-anchor="end" fill="#0a0a0a">BRCA2<tspan font-size="18.76" dx="0.3" dy="-14" font-weight="normal" fill="#444">-/-</tspan></text>
<text transform="translate(1723 1440.2)" font-size="36" font-weight="bold" font-style="italic" text-anchor="middle" fill="#0a0a0a">Itgae</text>
<text transform="translate(1545.91 1684.3) rotate(-90) scale(1 1.04)" font-size="32.49" text-anchor="middle" letter-spacing="0.5" fill="#0a0a0a" stroke="#0a0a0a" stroke-width="0.8" stroke-linejoin="round">Relative mRNA expression</text>
</g>
<g>
<path d="M137.35 2596.9 V2471.85 H207.65 V2596.9" fill="none" stroke="#4551B3" stroke-width="5.7" stroke-linejoin="miter"/>
<path d="M243.15 2596.9 V2350.95 H313.45 V2596.9" fill="none" stroke="#E1351B" stroke-width="5.7" stroke-linejoin="miter"/>
<path d="M101.6 2221.1V2598.8" stroke="#0a0a0a" stroke-width="3.8" fill="none"/>
<path d="M91.6 2596.9H349.4" stroke="#0a0a0a" stroke-width="3.8" fill="none"/>
<path d="M91.6 2223H101.6" stroke="#0a0a0a" stroke-width="3.8" fill="none"/>
<text transform="translate(86.8 2232.08) scale(1 1.04)" font-size="28" font-weight="bold" text-anchor="end" fill="#0a0a0a">3</text>
<path d="M91.6 2347.63H101.6" stroke="#0a0a0a" stroke-width="3.8" fill="none"/>
<text transform="translate(86.8 2356.71) scale(1 1.04)" font-size="28" font-weight="bold" text-anchor="end" fill="#0a0a0a">2</text>
<path d="M91.6 2472.27H101.6" stroke="#0a0a0a" stroke-width="3.8" fill="none"/>
<text transform="translate(86.8 2481.35) scale(1 1.04)" font-size="28" font-weight="bold" text-anchor="end" fill="#0a0a0a">1</text>
<text transform="translate(86.8 2605.98) scale(1 1.04)" font-size="28" font-weight="bold" text-anchor="end" fill="#0a0a0a">0</text>
<path d="M171.2 2596.9V2607.9" stroke="#0a0a0a" stroke-width="3.8" fill="none"/>
<path d="M277 2596.9V2607.9" stroke="#0a0a0a" stroke-width="3.8" fill="none"/>
<path d="M172.6 2440.3V2505.8M156.6 2440.3H188.6M156.6 2505.8H188.6" fill="none" stroke="#4551B3" stroke-width="3.6" stroke-linecap="round"/>
<path d="M278.1 2317.4V2382.3M262.1 2317.4H294.1M262.1 2382.3H294.1" fill="none" stroke="#E1351B" stroke-width="3.6" stroke-linecap="round"/>
<circle cx="172.6" cy="2377.6" r="8.5" fill="#4551B3"/>
<circle cx="172.6" cy="2425.7" r="8.5" fill="#4551B3"/>
<circle cx="172.6" cy="2475.9" r="8.5" fill="#4551B3"/>
<circle cx="183.7" cy="2538.4" r="8.5" fill="#4551B3"/>
<circle cx="161" cy="2548" r="8.5" fill="#4551B3"/>
<rect x="270.1" y="2236.2" width="16" height="16" fill="#E1351B"/>
<rect x="270.1" y="2319.4" width="16" height="16" fill="#E1351B"/>
<rect x="270.1" y="2346.2" width="16" height="16" fill="#E1351B"/>
<rect x="270.1" y="2369.1" width="16" height="16" fill="#E1351B"/>
<rect x="270.1" y="2437.8" width="16" height="16" fill="#E1351B"/>
<text transform="translate(180.7 2633.4) rotate(-45) scale(1 1.04)" font-size="27" font-weight="bold" text-anchor="end" fill="#0a0a0a">BRCA1<tspan font-size="18.09" dx="0.3" dy="-13.5" font-weight="normal" fill="#444">-/-</tspan></text>
<text transform="translate(286.5 2633.4) rotate(-45) scale(1 1.04)" font-size="27" font-weight="bold" text-anchor="end" fill="#0a0a0a">BRCA2<tspan font-size="18.09" dx="0.3" dy="-13.5" font-weight="normal" fill="#444">-/-</tspan></text>
<text transform="translate(226.5 2171.9)" font-size="36" font-weight="bold" font-style="italic" text-anchor="middle" fill="#0a0a0a">Cd83</text>
<text transform="translate(54.91 2409.25) rotate(-90) scale(1 1.04)" font-size="31.67" text-anchor="middle" letter-spacing="0.5" fill="#0a0a0a" stroke="#0a0a0a" stroke-width="0.8" stroke-linejoin="round">Relative mRNA expression</text>
</g>
<g>
<path d="M530.65 2598.9 V2562.45 H603.05 V2598.9" fill="none" stroke="#4551B3" stroke-width="5.7" stroke-linejoin="miter"/>
<path d="M637.55 2598.9 V2445.05 H709.15 V2598.9" fill="none" stroke="#E1351B" stroke-width="5.7" stroke-linejoin="miter"/>
<path d="M494.7 2226V2600.8" stroke="#0a0a0a" stroke-width="3.8" fill="none"/>
<path d="M484.7 2598.9H746" stroke="#0a0a0a" stroke-width="3.8" fill="none"/>
<path d="M484.7 2227.9H494.7" stroke="#0a0a0a" stroke-width="3.8" fill="none"/>
<text transform="translate(479.9 2236.98) scale(1 1.04)" font-size="28" font-weight="bold" text-anchor="end" fill="#0a0a0a">10</text>
<path d="M484.7 2302.5H494.7" stroke="#0a0a0a" stroke-width="3.8" fill="none"/>
<text transform="translate(479.9 2311.58) scale(1 1.04)" font-size="28" font-weight="bold" text-anchor="end" fill="#0a0a0a">8</text>
<path d="M484.7 2377.1H494.7" stroke="#0a0a0a" stroke-width="3.8" fill="none"/>
<text transform="translate(479.9 2386.18) scale(1 1.04)" font-size="28" font-weight="bold" text-anchor="end" fill="#0a0a0a">6</text>
<path d="M484.7 2451.7H494.7" stroke="#0a0a0a" stroke-width="3.8" fill="none"/>
<text transform="translate(479.9 2460.78) scale(1 1.04)" font-size="28" font-weight="bold" text-anchor="end" fill="#0a0a0a">4</text>
<path d="M484.7 2526.3H494.7" stroke="#0a0a0a" stroke-width="3.8" fill="none"/>
<text transform="translate(479.9 2535.38) scale(1 1.04)" font-size="28" font-weight="bold" text-anchor="end" fill="#0a0a0a">2</text>
<text transform="translate(479.9 2607.98) scale(1 1.04)" font-size="28" font-weight="bold" text-anchor="end" fill="#0a0a0a">0</text>
<path d="M565.6 2598.9V2609.9" stroke="#0a0a0a" stroke-width="3.8" fill="none"/>
<path d="M672.8 2598.9V2609.9" stroke="#0a0a0a" stroke-width="3.8" fill="none"/>
<path d="M566.7 2548V2577M550.5 2548H582.9M550.5 2577H582.9" fill="none" stroke="#4551B3" stroke-width="3.6" stroke-linecap="round"/>
<path d="M673.7 2399.4V2491.1M657.5 2399.4H689.9M657.5 2491.1H689.9" fill="none" stroke="#E1351B" stroke-width="3.6" stroke-linecap="round"/>
<circle cx="567" cy="2511.8" r="8.5" fill="#4551B3"/>
<circle cx="555.4" cy="2561" r="8.5" fill="#4551B3"/>
<circle cx="589.9" cy="2567.9" r="8.5" fill="#4551B3"/>
<circle cx="578.3" cy="2579" r="8.5" fill="#4551B3"/>
<circle cx="555.4" cy="2592.8" r="8.5" fill="#4551B3"/>
<rect x="665.6" y="2275.7" width="16" height="16" fill="#E1351B"/>
<rect x="665.6" y="2406.6" width="16" height="16" fill="#E1351B"/>
<rect x="665.6" y="2459.1" width="16" height="16" fill="#E1351B"/>
<rect x="653.7" y="2523.5" width="16" height="16" fill="#E1351B"/>
<rect x="677.2" y="2522.6" width="16" height="16" fill="#E1351B"/>
<text transform="translate(575.1 2635.4) rotate(-45) scale(1 1.04)" font-size="27" font-weight="bold" text-anchor="end" fill="#0a0a0a">BRCA1<tspan font-size="18.09" dx="0.3" dy="-13.5" font-weight="normal" fill="#444">-/-</tspan></text>
<text transform="translate(682.3 2635.4) rotate(-45) scale(1 1.04)" font-size="27" font-weight="bold" text-anchor="end" fill="#0a0a0a">BRCA2<tspan font-size="18.09" dx="0.3" dy="-13.5" font-weight="normal" fill="#444">-/-</tspan></text>
<text transform="translate(620.3 2178.2)" font-size="36" font-weight="bold" font-style="italic" text-anchor="middle" fill="#0a0a0a">Cd8b1</text>
<text transform="translate(433.58 2412.7) rotate(-90) scale(1 1.04)" font-size="31.42" text-anchor="middle" letter-spacing="0.5" fill="#0a0a0a" stroke="#0a0a0a" stroke-width="0.8" stroke-linejoin="round">Relative mRNA expression</text>
</g>
<g>
<path d="M908.05 2601.9 V2530.75 H976.05 V2601.9" fill="none" stroke="#4551B3" stroke-width="5.7" stroke-linejoin="miter"/>
<path d="M1011.35 2601.9 V2400.85 H1079.65 V2601.9" fill="none" stroke="#E1351B" stroke-width="5.7" stroke-linejoin="miter"/>
<path d="M872.6 2236.8V2603.8" stroke="#0a0a0a" stroke-width="3.8" fill="none"/>
<path d="M862.6 2601.9H1114.3" stroke="#0a0a0a" stroke-width="3.8" fill="none"/>
<path d="M862.6 2238.7H872.6" stroke="#0a0a0a" stroke-width="3.8" fill="none"/>
<text transform="translate(857.8 2247.78) scale(1 1.04)" font-size="28" font-weight="bold" text-anchor="end" fill="#0a0a0a">5</text>
<path d="M862.6 2311.7H872.6" stroke="#0a0a0a" stroke-width="3.8" fill="none"/>
<text transform="translate(857.8 2320.78) scale(1 1.04)" font-size="28" font-weight="bold" text-anchor="end" fill="#0a0a0a">4</text>
<path d="M862.6 2384.7H872.6" stroke="#0a0a0a" stroke-width="3.8" fill="none"/>
<text transform="translate(857.8 2393.78) scale(1 1.04)" font-size="28" font-weight="bold" text-anchor="end" fill="#0a0a0a">3</text>
<path d="M862.6 2457.7H872.6" stroke="#0a0a0a" stroke-width="3.8" fill="none"/>
<text transform="translate(857.8 2466.78) scale(1 1.04)" font-size="28" font-weight="bold" text-anchor="end" fill="#0a0a0a">2</text>
<path d="M862.6 2530.7H872.6" stroke="#0a0a0a" stroke-width="3.8" fill="none"/>
<text transform="translate(857.8 2539.78) scale(1 1.04)" font-size="28" font-weight="bold" text-anchor="end" fill="#0a0a0a">1</text>
<text transform="translate(857.8 2610.98) scale(1 1.04)" font-size="28" font-weight="bold" text-anchor="end" fill="#0a0a0a">0</text>
<path d="M940.8 2601.9V2612.9" stroke="#0a0a0a" stroke-width="3.8" fill="none"/>
<path d="M1043.8 2601.9V2612.9" stroke="#0a0a0a" stroke-width="3.8" fill="none"/>
<path d="M942 2512.7V2548.6M926.5 2512.7H957.5M926.5 2548.6H957.5" fill="none" stroke="#4551B3" stroke-width="3.6" stroke-linecap="round"/>
<path d="M1045.2 2368.8V2433.1M1029.7 2368.8H1060.7M1029.7 2433.1H1060.7" fill="none" stroke="#E1351B" stroke-width="3.6" stroke-linecap="round"/>
<circle cx="931.1" cy="2483.1" r="8.5" fill="#4551B3"/>
<circle cx="953.5" cy="2499.4" r="8.5" fill="#4551B3"/>
<circle cx="941.6" cy="2532" r="8.5" fill="#4551B3"/>
<circle cx="941.6" cy="2555.5" r="8.5" fill="#4551B3"/>
<circle cx="942.2" cy="2581.2" r="8.5" fill="#4551B3"/>
<rect x="1037.2" y="2288.2" width="16" height="16" fill="#E1351B"/>
<rect x="1037.2" y="2363.3" width="16" height="16" fill="#E1351B"/>
<rect x="1037.2" y="2398.9" width="16" height="16" fill="#E1351B"/>
<rect x="1047.7" y="2450.8" width="16" height="16" fill="#E1351B"/>
<rect x="1026.2" y="2466" width="16" height="16" fill="#E1351B"/>
<text transform="translate(950.3 2638.4) rotate(-45) scale(1 1.04)" font-size="27" font-weight="bold" text-anchor="end" fill="#0a0a0a">BRCA1<tspan font-size="18.09" dx="0.3" dy="-13.5" font-weight="normal" fill="#444">-/-</tspan></text>
<text transform="translate(1053.3 2638.4) rotate(-45) scale(1 1.04)" font-size="27" font-weight="bold" text-anchor="end" fill="#0a0a0a">BRCA2<tspan font-size="18.09" dx="0.3" dy="-13.5" font-weight="normal" fill="#444">-/-</tspan></text>
<text transform="translate(994.8 2189.3)" font-size="35.5" font-weight="bold" font-style="italic" text-anchor="middle" fill="#0a0a0a">Gzmk</text>
<text transform="translate(827.25 2419.6) rotate(-90) scale(1 1.04)" font-size="30.76" text-anchor="middle" letter-spacing="0.5" fill="#0a0a0a" stroke="#0a0a0a" stroke-width="0.8" stroke-linejoin="round">Relative mRNA expression</text>
</g>
<g>
<path d="M1276.35 2601.5 V2510.55 H1344.35 V2601.5" fill="none" stroke="#4551B3" stroke-width="5.7" stroke-linejoin="miter"/>
<path d="M1379.85 2601.5 V2371.65 H1447.35 V2601.5" fill="none" stroke="#E1351B" stroke-width="5.7" stroke-linejoin="miter"/>
<path d="M1240.9 2234V2603.4" stroke="#0a0a0a" stroke-width="3.8" fill="none"/>
<path d="M1230.9 2601.5H1482.5" stroke="#0a0a0a" stroke-width="3.8" fill="none"/>
<path d="M1230.9 2235.9H1240.9" stroke="#0a0a0a" stroke-width="3.8" fill="none"/>
<text transform="translate(1227.1 2244.98) scale(1 1.04)" font-size="28" font-weight="bold" text-anchor="end" fill="#0a0a0a">4</text>
<path d="M1230.9 2327.9H1240.9" stroke="#0a0a0a" stroke-width="3.8" fill="none"/>
<text transform="translate(1227.1 2336.98) scale(1 1.04)" font-size="28" font-weight="bold" text-anchor="end" fill="#0a0a0a">3</text>
<path d="M1230.9 2419.9H1240.9" stroke="#0a0a0a" stroke-width="3.8" fill="none"/>
<text transform="translate(1227.1 2428.98) scale(1 1.04)" font-size="28" font-weight="bold" text-anchor="end" fill="#0a0a0a">2</text>
<path d="M1230.9 2511.9H1240.9" stroke="#0a0a0a" stroke-width="3.8" fill="none"/>
<text transform="translate(1227.1 2520.98) scale(1 1.04)" font-size="28" font-weight="bold" text-anchor="end" fill="#0a0a0a">1</text>
<text transform="translate(1227.1 2610.58) scale(1 1.04)" font-size="28" font-weight="bold" text-anchor="end" fill="#0a0a0a">0</text>
<path d="M1309.1 2601.5V2612.5" stroke="#0a0a0a" stroke-width="3.8" fill="none"/>
<path d="M1412.1 2601.5V2612.5" stroke="#0a0a0a" stroke-width="3.8" fill="none"/>
<path d="M1310.5 2490.6V2531.2M1295 2490.6H1326M1295 2531.2H1326" fill="none" stroke="#4551B3" stroke-width="3.6" stroke-linecap="round"/>
<path d="M1412.7 2328.7V2410.5M1397.2 2328.7H1428.2M1397.2 2410.5H1428.2" fill="none" stroke="#E1351B" stroke-width="3.6" stroke-linecap="round"/>
<circle cx="1310.7" cy="2439.5" r="8.5" fill="#4551B3"/>
<circle cx="1299.4" cy="2500.8" r="8.5" fill="#4551B3"/>
<circle cx="1321.8" cy="2513.5" r="8.5" fill="#4551B3"/>
<circle cx="1321.8" cy="2546.6" r="8.5" fill="#4551B3"/>
<circle cx="1299.4" cy="2554.1" r="8.5" fill="#4551B3"/>
<rect x="1404.7" y="2270.8" width="16" height="16" fill="#E1351B"/>
<rect x="1415.7" y="2305.6" width="16" height="16" fill="#E1351B"/>
<rect x="1393.9" y="2322.1" width="16" height="16" fill="#E1351B"/>
<rect x="1404.7" y="2427.3" width="16" height="16" fill="#E1351B"/>
<rect x="1404.7" y="2488.1" width="16" height="16" fill="#E1351B"/>
<text transform="translate(1318.6 2638) rotate(-45) scale(1 1.04)" font-size="27" font-weight="bold" text-anchor="end" fill="#0a0a0a">BRCA1<tspan font-size="18.09" dx="0.3" dy="-13.5" font-weight="normal" fill="#444">-/-</tspan></text>
<text transform="translate(1421.6 2638) rotate(-45) scale(1 1.04)" font-size="27" font-weight="bold" text-anchor="end" fill="#0a0a0a">BRCA2<tspan font-size="18.09" dx="0.3" dy="-13.5" font-weight="normal" fill="#444">-/-</tspan></text>
<text transform="translate(1359.9 2186.5)" font-size="34.6" font-weight="bold" font-style="italic" text-anchor="middle" fill="#0a0a0a">Xcl1</text>
<text transform="translate(1195.25 2418) rotate(-90) scale(1 1.04)" font-size="30.97" text-anchor="middle" letter-spacing="0.5" fill="#0a0a0a" stroke="#0a0a0a" stroke-width="0.8" stroke-linejoin="round">Relative mRNA expression</text>
</g>
<g>
<path d="M1648.05 2599.1 V2506.65 H1718.85 V2599.1" fill="none" stroke="#4551B3" stroke-width="5.7" stroke-linejoin="miter"/>
<path d="M1754.05 2599.1 V2316.95 H1823.75 V2599.1" fill="none" stroke="#E1351B" stroke-width="5.7" stroke-linejoin="miter"/>
<path d="M1612 2225.8V2601" stroke="#0a0a0a" stroke-width="3.8" fill="none"/>
<path d="M1602 2599.1H1862" stroke="#0a0a0a" stroke-width="3.8" fill="none"/>
<path d="M1602 2227.7H1612" stroke="#0a0a0a" stroke-width="3.8" fill="none"/>
<text transform="translate(1597.2 2236.78) scale(1 1.04)" font-size="28" font-weight="bold" text-anchor="end" fill="#0a0a0a">4</text>
<path d="M1602 2320.8H1612" stroke="#0a0a0a" stroke-width="3.8" fill="none"/>
<text transform="translate(1597.2 2329.88) scale(1 1.04)" font-size="28" font-weight="bold" text-anchor="end" fill="#0a0a0a">3</text>
<path d="M1602 2413.9H1612" stroke="#0a0a0a" stroke-width="3.8" fill="none"/>
<text transform="translate(1597.2 2422.98) scale(1 1.04)" font-size="28" font-weight="bold" text-anchor="end" fill="#0a0a0a">2</text>
<path d="M1602 2507H1612" stroke="#0a0a0a" stroke-width="3.8" fill="none"/>
<text transform="translate(1597.2 2516.08) scale(1 1.04)" font-size="28" font-weight="bold" text-anchor="end" fill="#0a0a0a">1</text>
<text transform="translate(1597.2 2608.18) scale(1 1.04)" font-size="28" font-weight="bold" text-anchor="end" fill="#0a0a0a">0</text>
<path d="M1681.8 2599.1V2610.1" stroke="#0a0a0a" stroke-width="3.8" fill="none"/>
<path d="M1788.2 2599.1V2610.1" stroke="#0a0a0a" stroke-width="3.8" fill="none"/>
<path d="M1683 2490.6V2523.7M1667 2490.6H1699M1667 2523.7H1699" fill="none" stroke="#4551B3" stroke-width="3.6" stroke-linecap="round"/>
<path d="M1788.8 2298.9V2336.2M1772.8 2298.9H1804.8M1772.8 2336.2H1804.8" fill="none" stroke="#E1351B" stroke-width="3.6" stroke-linecap="round"/>
<circle cx="1683" cy="2447.8" r="8.5" fill="#4551B3"/>
<circle cx="1660.1" cy="2512.7" r="8.5" fill="#4551B3"/>
<circle cx="1683" cy="2514.9" r="8.5" fill="#4551B3"/>
<circle cx="1705.1" cy="2508" r="8.5" fill="#4551B3"/>
<circle cx="1683" cy="2553.5" r="8.5" fill="#4551B3"/>
<rect x="1780.8" y="2252.8" width="16" height="16" fill="#E1351B"/>
<rect x="1780.8" y="2284" width="16" height="16" fill="#E1351B"/>
<rect x="1780.8" y="2314.4" width="16" height="16" fill="#E1351B"/>
<rect x="1791.8" y="2342.8" width="16" height="16" fill="#E1351B"/>
<rect x="1769.8" y="2353.6" width="16" height="16" fill="#E1351B"/>
<text transform="translate(1691.3 2635.6) rotate(-45) scale(1 1.04)" font-size="27" font-weight="bold" text-anchor="end" fill="#0a0a0a">BRCA1<tspan font-size="18.09" dx="0.3" dy="-13.5" font-weight="normal" fill="#444">-/-</tspan></text>
<text transform="translate(1797.7 2635.6) rotate(-45) scale(1 1.04)" font-size="27" font-weight="bold" text-anchor="end" fill="#0a0a0a">BRCA2<tspan font-size="18.09" dx="0.3" dy="-13.5" font-weight="normal" fill="#444">-/-</tspan></text>
<text transform="translate(1737.3 2178.2)" font-size="36" font-weight="bold" font-style="italic" text-anchor="middle" fill="#0a0a0a">Ccl5</text>
<text transform="translate(1565.63 2412.7) rotate(-90) scale(1 1.04)" font-size="31.46" text-anchor="middle" letter-spacing="0.5" fill="#0a0a0a" stroke="#0a0a0a" stroke-width="0.8" stroke-linejoin="round">Relative mRNA expression</text>
</g>
</svg>
</body>
</html>
